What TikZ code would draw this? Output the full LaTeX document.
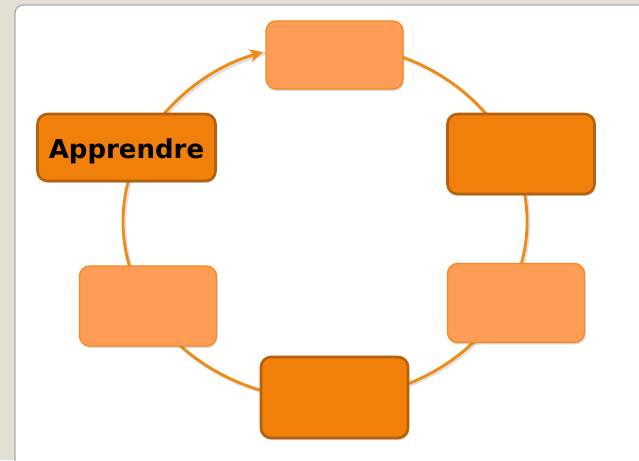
\documentclass[tikz,border=0pt]{standalone}
\usepackage{fontspec}
\setmainfont{DejaVu Sans}
\usetikzlibrary{arrows.meta,shadows,calc}
\definecolor{bgbeige}{HTML}{E4DFD4}
\definecolor{panelborder}{HTML}{ABABAB}
\definecolor{lightfill}{HTML}{FF9C55}
\definecolor{lightborder}{HTML}{F58A1E}
\definecolor{darkfill}{HTML}{F0800A}
\definecolor{darkborder}{HTML}{B5600C}
\definecolor{ringclr}{HTML}{F08A12}
\tikzset{
  lightbox/.style={rectangle, rounded corners=10pt, fill=lightfill, draw=lightborder, line width=1.3pt,
    drop shadow={shadow xshift=1pt, shadow yshift=-2pt, opacity=0.25, fill=black!60}},
  darkbox/.style={rectangle, rounded corners=10pt, fill=darkfill, draw=darkborder, line width=2.6pt,
    drop shadow={shadow xshift=1pt, shadow yshift=-2pt, opacity=0.25, fill=black!60}},
  ring/.style={draw=ringclr, line width=2.8pt},
  ringshadow/.style={draw=black, opacity=0.12, line width=3.5pt},
}
\begin{document}
\begin{tikzpicture}[x=1pt,y=1pt]
\useasboundingbox (0,0) rectangle (639,460);
\clip (0,0) rectangle (639,460);
\fill[bgbeige] (0,0) rectangle (639,460);
\draw[fill=white, draw=panelborder, line width=1.3pt, rounded corners=8pt] (15,-20) rectangle (680,455);
% ring shadow
\draw[ringshadow] (326.5,237) ellipse [x radius=202, y radius=178];
% ring
\draw[ring] (325,238.5) ++(104:202 and 178) arc[start angle=104, end angle=-210, x radius=202, y radius=178];
\coordinate (ringstart) at ($(325,238.5)+(150:202 and 178)$);
\draw[ring, -{Stealth[length=13pt, width=13pt, inset=3.5pt]}] (ringstart) arc[start angle=150, end angle=107.9, x radius=202, y radius=178];
% boxes
\node[lightbox, minimum width=137pt, minimum height=68pt] (top) at (334.5,405) {};
\node[darkbox, minimum width=147pt, minimum height=80pt] (ru) at (521,306) {};
\node[lightbox, minimum width=137pt, minimum height=79pt] (rl) at (516,157) {};
\node[darkbox, minimum width=147pt, minimum height=81pt] (bot) at (334.5,62.5) {};
\node[lightbox, minimum width=137pt, minimum height=80pt] (ll) at (148,154) {};
\node[darkbox, minimum width=178pt, minimum height=67pt, font=\fontsize{26}{31}\selectfont\bfseries, text depth=0pt] (app) at (126.5,312.5) {\raisebox{-1.5pt}{Apprendre}};
\end{tikzpicture}
\end{document}
